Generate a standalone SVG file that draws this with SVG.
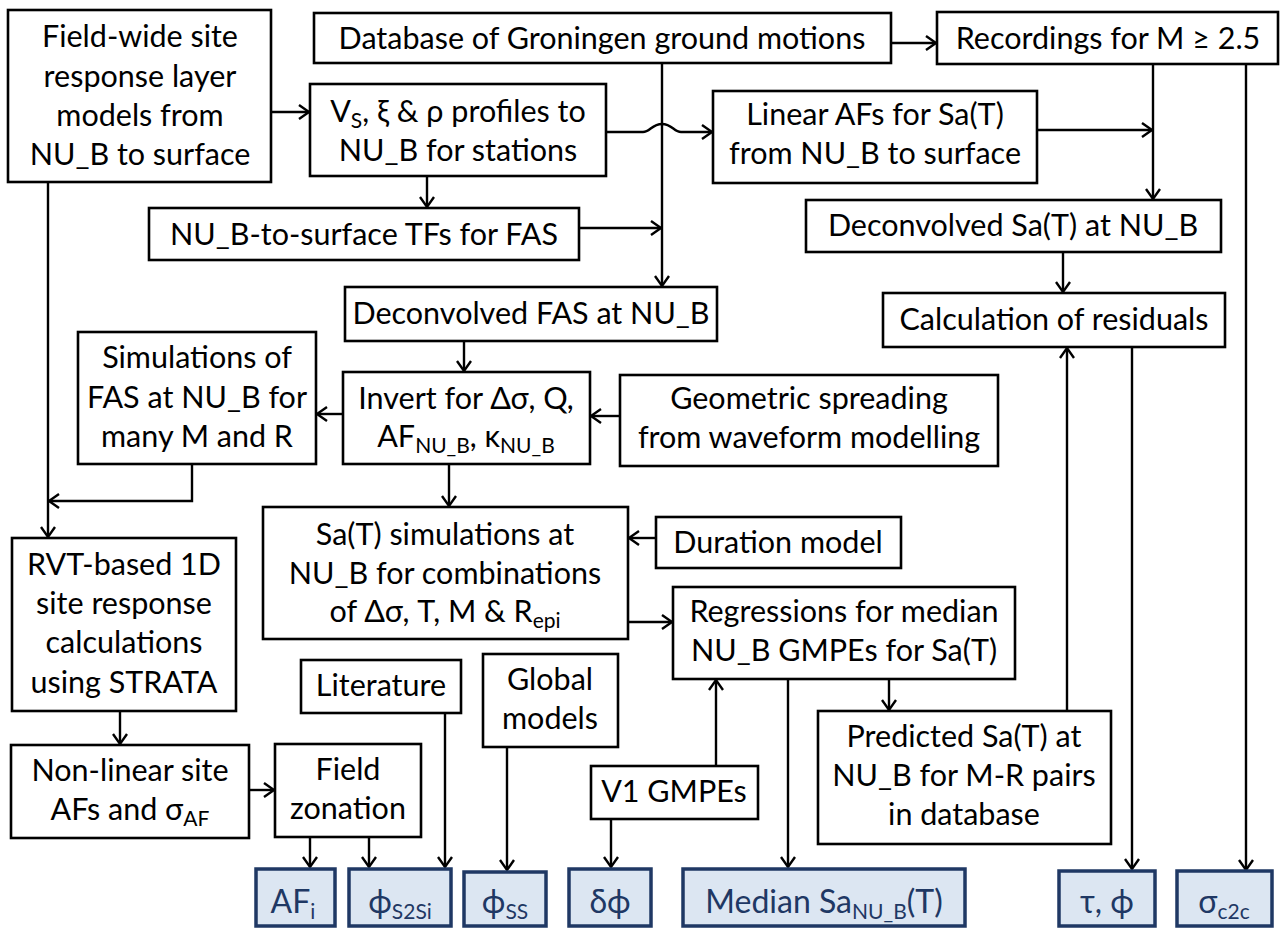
<svg xmlns="http://www.w3.org/2000/svg" width="1280" height="929" viewBox="0 0 1280 929">
<defs>
<marker id="ah" markerUnits="userSpaceOnUse" markerWidth="14" markerHeight="16" refX="11" refY="8" orient="auto">
<path d="M1,1 L11,8 L1,15" fill="none" stroke="#000" stroke-width="2.4"/>
</marker>
<style>
.b{fill:#fff;stroke:#000;stroke-width:2.6}
.o{fill:#dce6f2;stroke:#1f3864;stroke-width:3.5}
.t{font-family:Lato,"Liberation Sans",sans-serif;font-size:30.5px;text-anchor:middle;fill:#000}
.ot{font-family:Lato,"Liberation Sans",sans-serif;font-size:32px;text-anchor:middle;fill:#1f3864}
.s{font-size:21px}
.c{fill:none;stroke:#000;stroke-width:2.4}
.a{marker-end:url(#ah)}
</style>
</defs>
<rect width="1280" height="929" fill="#fff"/>
<g id="connectors">
<path class="c a" d="M271,112 H309"/>
<path class="c a" d="M891,43 H936"/>
<path class="c a" d="M662,63 V286"/>
<path class="c a" d="M606,132 H643 C650,132 652,124 662,124 C672,124 674,132 681,132 H712"/>
<path class="c a" d="M427,176 V207"/>
<path class="c a" d="M579,228 H661"/>
<path class="c a" d="M1153,64 V199"/>
<path class="c a" d="M1037,130 H1152"/>
<path class="c a" d="M1246,64 V870"/>
<path class="c a" d="M1063,252 V292"/>
<path class="c a" d="M48,182 V537"/>
<path class="c a" d="M464,341 V371"/>
<path class="c a" d="M343,414 H317"/>
<path class="c a" d="M620,416 H591"/>
<path class="c a" d="M192,464 V501 H49"/>
<path class="c a" d="M449,464 V506"/>
<path class="c a" d="M656,538 H629"/>
<path class="c a" d="M628,622 H672"/>
<path class="c a" d="M120,711 V744"/>
<path class="c a" d="M249,790 H274"/>
<path class="c a" d="M310,837 V867"/>
<path class="c a" d="M369,837 V867"/>
<path class="c a" d="M445,713 V867"/>
<path class="c a" d="M507,747 V870"/>
<path class="c a" d="M611,819 V867"/>
<path class="c a" d="M716,766 V680"/>
<path class="c a" d="M788,679 V867"/>
<path class="c a" d="M889,679 V710"/>
<path class="c a" d="M1067,711 V348"/>
<path class="c a" d="M1132,347 V869"/>
</g>
<g id="field-wide"><rect class="b" x="8" y="10" width="263" height="172"/>
<text class="t" x="140" y="47">Field-wide site</text><text class="t" x="140" y="87">response layer</text><text class="t" x="140" y="126">models from</text><text class="t" x="140" y="165">NU_B to surface</text></g>
<g id="database"><rect class="b" x="314" y="13" width="577" height="50"/>
<text class="t" x="602" y="49">Database of Groningen ground motions</text></g>
<g id="recordings"><rect class="b" x="937" y="12" width="341" height="52"/>
<text class="t" x="1108" y="49">Recordings for  M ≥ 2.5</text></g>
<g id="profiles"><rect class="b" x="310" y="84" width="296" height="92"/>
<text class="t" x="458" y="122">V<tspan class="s" dy="6">S</tspan><tspan dy="-6">, ξ &amp; ρ profiles to</tspan></text><text class="t" x="458" y="161">NU_B for stations</text></g>
<g id="linear-afs"><rect class="b" x="713" y="91" width="324" height="92"/>
<text class="t" x="875" y="125">Linear AFs for Sa(T)</text><text class="t" x="875" y="164">from NU_B to surface</text></g>
<g id="tfs"><rect class="b" x="149" y="208" width="430" height="52"/>
<text class="t" x="364" y="245">NU_B-to-surface TFs for FAS</text></g>
<g id="deconv-sa"><rect class="b" x="806" y="200" width="415" height="52"/>
<text class="t" x="1013" y="236">Deconvolved Sa(T) at NU_B</text></g>
<g id="deconv-fas"><rect class="b" x="345" y="287" width="372" height="54"/>
<text class="t" x="531" y="324">Deconvolved FAS at NU_B</text></g>
<g id="residuals"><rect class="b" x="883" y="293" width="342" height="54"/>
<text class="t" x="1054" y="330">Calculation of residuals</text></g>
<g id="simulations-fas"><rect class="b" x="78" y="332" width="238" height="132"/>
<text class="t" x="197" y="368">Simulations of</text><text class="t" x="197" y="408">FAS at NU_B for</text><text class="t" x="197" y="447">many M and R</text></g>
<g id="invert"><rect class="b" x="343" y="372" width="247" height="92"/>
<text class="t" x="466" y="409">Invert for Δσ, Q,</text><text class="t" x="466" y="447">AF<tspan class="s" dy="6">NU_B</tspan><tspan dy="-6">, κ</tspan><tspan class="s" dy="6">NU_B</tspan></text></g>
<g id="geometric"><rect class="b" x="620" y="375" width="378" height="91"/>
<text class="t" x="809" y="409">Geometric spreading</text><text class="t" x="809" y="448">from waveform modelling</text></g>
<g id="rvt"><rect class="b" x="12" y="538" width="224" height="173"/>
<text class="t" x="124" y="575">RVT-based 1D</text><text class="t" x="124" y="614">site response</text><text class="t" x="124" y="653">calculations</text><text class="t" x="124" y="693">using STRATA</text></g>
<g id="sa-simulations"><rect class="b" x="263" y="507" width="365" height="132"/>
<text class="t" x="445" y="545">Sa(T) simulations at</text><text class="t" x="445" y="584">NU_B for combinations</text><text class="t" x="445" y="622">of Δσ, T, M &amp; R<tspan class="s" dy="6">epi</tspan></text></g>
<g id="duration"><rect class="b" x="656" y="517" width="245" height="51"/>
<text class="t" x="778" y="553">Duration model</text></g>
<g id="regressions"><rect class="b" x="673" y="587" width="342" height="92"/>
<text class="t" x="844" y="622">Regressions for median</text><text class="t" x="844" y="661">NU_B GMPEs for Sa(T)</text></g>
<g id="literature"><rect class="b" x="301" y="660" width="160" height="53"/>
<text class="t" x="381" y="696">Literature</text></g>
<g id="global"><rect class="b" x="483" y="654" width="135" height="93"/>
<text class="t" x="550" y="690">Global</text><text class="t" x="550" y="729">models</text></g>
<g id="nonlinear"><rect class="b" x="11" y="745" width="238" height="93"/>
<text class="t" x="130" y="781">Non-linear site</text><text class="t" x="130" y="820">AFs and σ<tspan class="s" dy="6">AF</tspan></text></g>
<g id="zonation"><rect class="b" x="275" y="744" width="146" height="93"/>
<text class="t" x="348" y="780">Field</text><text class="t" x="348" y="819">zonation</text></g>
<g id="v1"><rect class="b" x="591" y="766" width="167" height="53"/>
<text class="t" x="674" y="802">V1 GMPEs</text></g>
<g id="predicted"><rect class="b" x="818" y="711" width="293" height="133"/>
<text class="t" x="964" y="747">Predicted Sa(T) at</text><text class="t" x="964" y="786">NU_B for M-R pairs</text><text class="t" x="964" y="825">in database</text></g>
<g id="out-afi"><rect class="o" x="256" y="869" width="79" height="57"/>
<text class="ot" x="293" y="913">AF<tspan class="s" dy="6">i</tspan></text></g>
<g id="out-s2s"><rect class="o" x="349" y="869" width="102" height="57"/>
<text class="ot" x="400" y="913">ϕ<tspan class="s" dy="6">S2Si</tspan></text></g>
<g id="out-ss"><rect class="o" x="464" y="872" width="82" height="54"/>
<text class="ot" x="505" y="913">ϕ<tspan class="s" dy="6">SS</tspan></text></g>
<g id="out-dphi"><rect class="o" x="569" y="869" width="82" height="57"/>
<text class="ot" x="610" y="913">δϕ</text></g>
<g id="out-median"><rect class="o" x="683" y="869" width="282" height="57"/>
<text class="ot" x="824" y="913">Median Sa<tspan class="s" dy="6">NU_B</tspan><tspan dy="-6">(T)</tspan></text></g>
<g id="out-tauphi"><rect class="o" x="1059" y="871" width="96" height="55"/>
<text class="ot" x="1107" y="913">τ, ϕ</text></g>
<g id="out-c2c"><rect class="o" x="1177" y="871" width="95" height="55"/>
<text class="ot" x="1224" y="913">σ<tspan class="s" dy="6">c2c</tspan></text></g>
</svg>
